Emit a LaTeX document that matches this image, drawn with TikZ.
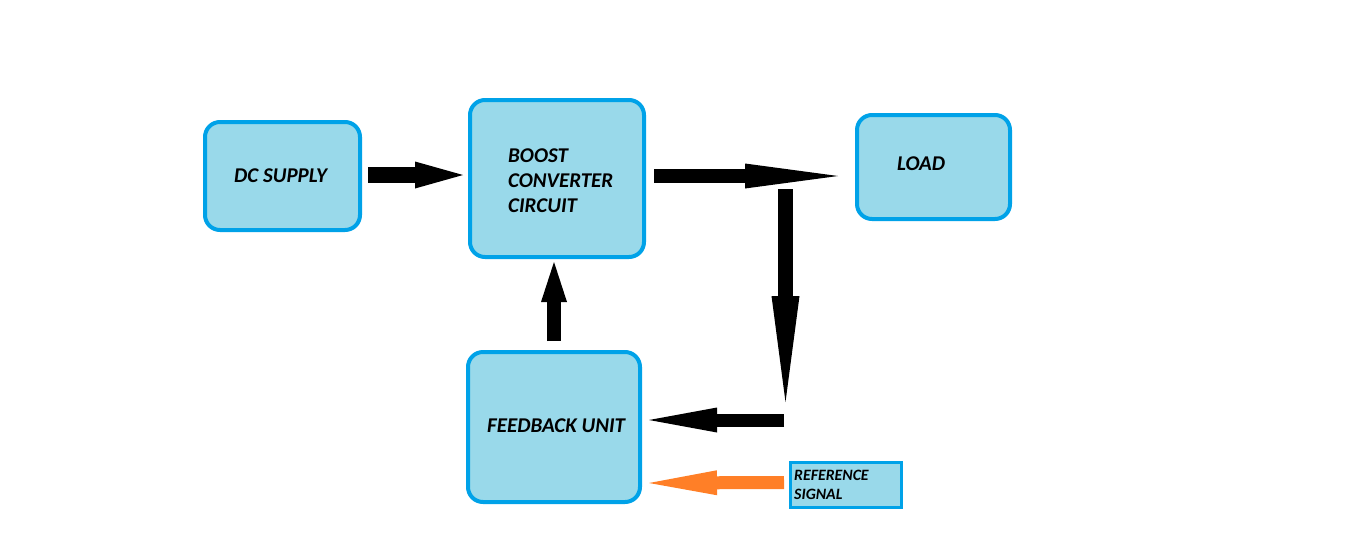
\documentclass[tikz,border=0pt]{standalone}
\usepackage{fontspec}
\setmainfont{Carlito}
\usetikzlibrary{arrows.meta}
\definecolor{bord}{HTML}{00A2E8}
\definecolor{fillc}{HTML}{99D9EA}
\definecolor{orng}{HTML}{FF7F27}
\tikzset{
  blockbox/.style={draw=bord, fill=fillc, line width=4pt, rounded corners=15pt, inner sep=0pt},
  refbox/.style={draw=bord, fill=fillc, line width=3pt, inner sep=0pt},
  lbl/.style={anchor=base west, inner sep=0pt, font=\fontsize{21}{25}\selectfont\bfseries\itshape},
  smalllbl/.style={anchor=base west, inner sep=0pt, font=\fontsize{15.8}{19}\selectfont\bfseries\itshape},
  fatarrow/.style n args={4}{draw=#4, line width=#1, -{Triangle[length=#2, width=#3, line width=0pt, fill=#4]}}
}
\begin{document}
\begin{tikzpicture}[x=1pt, y=-1pt]
\useasboundingbox (0,0) rectangle (1354,555);
% boxes
\node[blockbox, minimum width=155pt, minimum height=108pt] (dc) at (282.5,176) {};
\node[blockbox, minimum width=174pt, minimum height=157pt] (boost) at (557,178.5) {};
\node[blockbox, minimum width=153pt, minimum height=104pt] (load) at (933.5,167) {};
\node[blockbox, minimum width=172pt, minimum height=150pt] (fb) at (554,427) {};
\node[refbox, minimum width=111pt, minimum height=45pt] (ref) at (846,485) {};
% labels
\node[lbl] (dctxt) at (234,182) {DC SUPPLY};
\node[lbl] (boost1) at (508,162) {BOOST};
\node[lbl] (boost2) at (508,187) {CONVERTER};
\node[lbl] (boost3) at (508,212) {CIRCUIT};
\node[lbl] (loadtxt) at (897,170) {LOAD};
\node[lbl] (fbtxt) at (487,432) {FEEDBACK UNIT};
\node[smalllbl] (ref1) at (794,480) {REFERENCE};
\node[smalllbl] (ref2) at (794,499) {SIGNAL};
% junction coordinates
\coordinate (jtop) at (785.5,189);
\coordinate (jbot) at (785.5,402);
\coordinate (fbin) at (784,420);
% arrows
\draw[fatarrow={16pt}{48pt}{27pt}{black}] ([xshift=6pt,yshift=1pt]dc.east) -- ([xshift=-5pt,yshift=3.5pt]boost.west);
\draw[fatarrow={14pt}{93pt}{25pt}{black}] ([xshift=8pt,yshift=2.5pt]boost.east) -- ([xshift=-17pt,yshift=-9pt]load.west);
\draw[fatarrow={15pt}{106pt}{28pt}{black}] (jtop) -- (jbot);
\draw[fatarrow={13pt}{68pt}{25pt}{black}] (fbin) -- ([xshift=7pt,yshift=7pt]fb.east);
\draw[fatarrow={13pt}{68pt}{25pt}{orng}] ([xshift=-5pt,yshift=2.5pt]ref.west) -- ([xshift=7pt,yshift=-56pt]fb.east);
\draw[fatarrow={14pt}{40pt}{26pt}{black}] ([yshift=9pt]fb.north) -- ([xshift=-3pt,yshift=-3pt]boost.south);
\end{tikzpicture}
\end{document}
